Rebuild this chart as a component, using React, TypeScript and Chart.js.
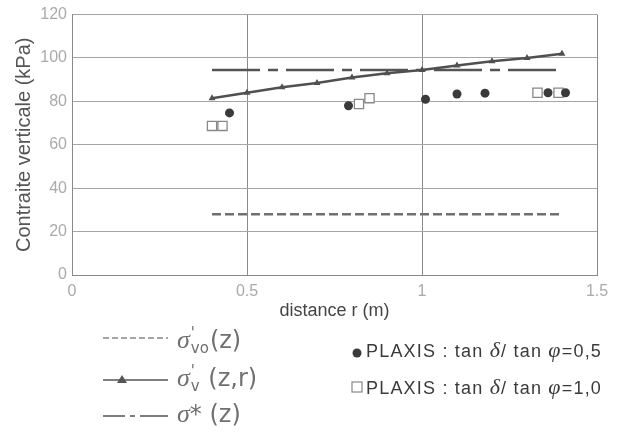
import React, { useEffect, useRef } from "react";
import { Chart, registerables } from "chart.js";

Chart.register(...registerables);

// ---- data ----
const xTicks = [0, 0.5, 1, 1.5];
const yTicks = [0, 20, 40, 60, 80, 100, 120];

const sigmaV0X = [0.4, 1.4];
const sigmaV0Y = [28, 28];

const sigmaVX = [0.4, 0.5, 0.6, 0.7, 0.8, 0.9, 1.0, 1.1, 1.2, 1.3, 1.4];
const sigmaVY = [81.5, 84, 86.5, 88.5, 91, 93, 94.5, 96.5, 98.5, 100, 102];

const sigmaStarX = [0.4, 1.4];
const sigmaStarY = [94.5, 94.5];

const plaxis05X = [0.45, 0.79, 1.01, 1.1, 1.18, 1.36, 1.41];
const plaxis05Y = [74.7, 78, 81, 83.4, 83.8, 84, 84];

const plaxis10X = [0.4, 0.43, 0.82, 0.85, 1.33, 1.39];
const plaxis10Y = [68.7, 68.7, 78.8, 81.5, 84, 84];

const xTitle = "distance r (m)";
const yTitle = "Contraite verticale (kPa)";

const toPts = (xs: number[], ys: number[]) => xs.map((x, i) => ({ x, y: ys[i] }));

const legendSymbols = {
  id: "legendSymbols",
  afterDraw(chart: any) {
    const ctx = chart.ctx;
    ctx.save();
    const x0 = 103;
    const x1 = 168;
    // row 1: dashed
    ctx.strokeStyle = "#888";
    ctx.lineWidth = 1.5;
    ctx.setLineDash([6, 3]);
    ctx.beginPath();
    ctx.moveTo(x0, 338);
    ctx.lineTo(x1, 338);
    ctx.stroke();
    // row 2: solid with triangle
    ctx.setLineDash([]);
    ctx.strokeStyle = "#555";
    ctx.beginPath();
    ctx.moveTo(x0, 380);
    ctx.lineTo(x1, 380);
    ctx.stroke();
    ctx.fillStyle = "#555";
    ctx.beginPath();
    ctx.moveTo(122, 375);
    ctx.lineTo(127, 383);
    ctx.lineTo(117, 383);
    ctx.closePath();
    ctx.fill();
    // row 3: dash-dot
    ctx.strokeStyle = "#555";
    ctx.setLineDash([22, 5, 5, 5, 30, 100]);
    ctx.beginPath();
    ctx.moveTo(x0, 416);
    ctx.lineTo(x1, 416);
    ctx.stroke();
    ctx.setLineDash([]);
    // right legend symbols
    ctx.fillStyle = "#3a3a3a";
    ctx.beginPath();
    ctx.arc(357, 353, 4.5, 0, Math.PI * 2);
    ctx.fill();
    ctx.strokeStyle = "#888";
    ctx.lineWidth = 1.2;
    ctx.fillStyle = "#fff";
    ctx.fillRect(352, 382, 10, 10);
    ctx.strokeRect(352, 382, 10, 10);
    ctx.restore();
  },
};

const greek: React.CSSProperties = {
  fontFamily: "'Liberation Serif', 'DejaVu Serif', serif",
  fontStyle: "italic",
};

function Stack({ top, bottom }: { top: string; bottom: string }) {
  return (
    <span
      style={{
        display: "inline-flex",
        flexDirection: "column",
        verticalAlign: "middle",
        fontSize: 15,
        lineHeight: "13px",
        marginLeft: 1,
        marginRight: 1,
      }}
    >
      <span style={{ height: 13 }}>{top}</span>
      <span style={{ height: 13, marginTop: 2 }}>{bottom}</span>
    </span>
  );
}

export default function App() {
  const ref = useRef<HTMLCanvasElement | null>(null);

  useEffect(() => {
    if (!ref.current) return;
    const chart = new Chart(ref.current, {
      type: "scatter",
      data: {
        datasets: [
          {
            label: "PLAXIS 0,5",
            data: toPts(plaxis05X, plaxis05Y),
            pointStyle: "circle",
            pointRadius: 4.5,
            backgroundColor: "#3a3a3a",
            borderColor: "#3a3a3a",
            borderWidth: 0,
            showLine: false,
          },
          {
            label: "PLAXIS 1,0",
            data: toPts(plaxis10X, plaxis10Y),
            pointStyle: "rect",
            pointRadius: 6.5,
            backgroundColor: "#ffffff",
            borderColor: "#888",
            borderWidth: 1.3,
            showLine: false,
          },
          {
            label: "sigma v(z,r)",
            data: toPts(sigmaVX, sigmaVY),
            showLine: true,
            borderColor: "#505050",
            borderWidth: 2.5,
            pointStyle: "triangle",
            pointRadius: 4,
            backgroundColor: "#505050",
            pointBorderWidth: 0,
          },
          {
            label: "sigma*",
            data: toPts(sigmaStarX, sigmaStarY),
            showLine: true,
            borderColor: "#555",
            borderWidth: 2.5,
            borderDash: [48, 8, 10, 8],
            pointRadius: 0,
          },
          {
            label: "sigma v0",
            data: toPts(sigmaV0X, sigmaV0Y),
            showLine: true,
            borderColor: "#707070",
            borderWidth: 2.5,
            borderDash: [9, 4],
            pointRadius: 0,
          },
        ],
      },
      options: {
        responsive: false,
        animation: false,
        layout: { padding: { left: 0, top: 13, right: 30, bottom: 108 } },
        plugins: {
          legend: { display: false },
          tooltip: { enabled: false },
        },
        scales: {
          x: {
            type: "linear",
            min: 0,
            max: 1.5,
            afterBuildTicks: (s: any) => {
              s.ticks = xTicks.map((v) => ({ value: v }));
            },
            afterFit: (s: any) => {
              s.height = 50;
            },
            ticks: {
              padding: 7,
              color: "#aaa",
              font: { family: "'Liberation Sans', Arial, sans-serif", size: 16 },
              callback: (v: any) => String(v),
            },
            grid: { color: "#8a8a8a", lineWidth: 1, drawTicks: false },
            border: { color: "#8a8a8a" },
            title: {
              display: true,
              text: xTitle,
              color: "#444",
              font: { family: "'Liberation Sans', Arial, sans-serif", size: 18 },
              padding: { top: 0, bottom: 3 },
            },
          },
          y: {
            min: 0,
            max: 120,
            afterBuildTicks: (s: any) => {
              s.ticks = yTicks.map((v) => ({ value: v }));
            },
            afterFit: (s: any) => {
              s.width = 72;
            },
            ticks: {
              padding: 5,
              color: "#aaa",
              font: { family: "'Liberation Sans', Arial, sans-serif", size: 16 },
              callback: (v: any) => String(v),
            },
            grid: { color: "#a5a5a5", lineWidth: 1, drawTicks: false },
            border: { color: "#8a8a8a" },
            title: {
              display: true,
              text: yTitle,
              color: "#555",
              font: { family: "'Liberation Sans', Arial, sans-serif", size: 20 },
              padding: { top: 12, bottom: 0 },
            },
          },
        },
      },
      plugins: [legendSymbols],
    });
    return () => chart.destroy();
  }, []);

  const leftRow: React.CSSProperties = {
    position: "absolute",
    left: 177,
    color: "#707070",
    fontFamily: "'DejaVu Sans', sans-serif",
    fontSize: 24,
    lineHeight: "30px",
    whiteSpace: "nowrap",
    transform: "translateY(-50%)",
  };
  const rightRow: React.CSSProperties = {
    position: "absolute",
    left: 366,
    color: "#3a3a3a",
    fontFamily: "'Liberation Sans', Arial, sans-serif",
    fontSize: 18,
    letterSpacing: 1.2,
    lineHeight: "24px",
    whiteSpace: "nowrap",
    transform: "translateY(-50%)",
  };

  return (
    <div style={{ position: "absolute", left: 0, top: 0, width: 627, height: 433, background: "#fff" }}>
      <canvas ref={ref} width={627} height={433} style={{ display: "block", width: 627, height: 433 }} />
      <div style={{ ...leftRow, top: 340 }}>
        <span style={{ ...greek, fontSize: 26 }}>σ</span>
        <Stack top="'" bottom="vo" />
        (z)
      </div>
      <div style={{ ...leftRow, top: 378 }}>
        <span style={{ ...greek, fontSize: 26 }}>σ</span>
        <Stack top="'" bottom="v" /> (z,r)
      </div>
      <div style={{ ...leftRow, top: 414 }}>
        <span style={{ ...greek, fontSize: 26 }}>σ</span>* (z)
      </div>
      <div style={{ ...rightRow, top: 350 }}>
        PLAXIS : tan <span style={{ ...greek, fontSize: 22 }}>δ</span>/ tan{" "}
        <span style={{ ...greek, fontSize: 22 }}>φ</span>=0,5
      </div>
      <div style={{ ...rightRow, top: 387 }}>
        PLAXIS : tan <span style={{ ...greek, fontSize: 22 }}>δ</span>/ tan{" "}
        <span style={{ ...greek, fontSize: 22 }}>φ</span>=1,0
      </div>
    </div>
  );
}
